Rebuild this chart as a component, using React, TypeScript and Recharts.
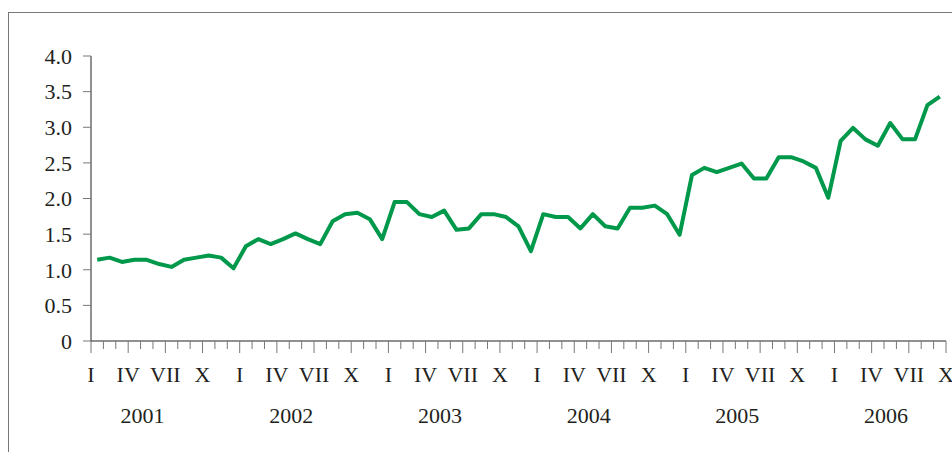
import React from 'react';
import { LineChart, Line, XAxis, YAxis } from 'recharts';

// monthly values, Jan..Dec for each year (2006 ends in September)
const y2001 = [1.14, 1.17, 1.11, 1.14, 1.14, 1.08, 1.04, 1.14, 1.17, 1.2, 1.17, 1.02];
const y2002 = [1.33, 1.43, 1.36, 1.43, 1.51, 1.43, 1.36, 1.68, 1.78, 1.8, 1.71, 1.43];
const y2003 = [1.95, 1.95, 1.78, 1.74, 1.83, 1.56, 1.58, 1.78, 1.78, 1.74, 1.61, 1.26];
const y2004 = [1.78, 1.74, 1.74, 1.58, 1.78, 1.61, 1.58, 1.87, 1.87, 1.9, 1.78, 1.49];
const y2005 = [2.33, 2.43, 2.37, 2.43, 2.49, 2.28, 2.28, 2.58, 2.58, 2.52, 2.43, 2.01];
const y2006 = [2.81, 2.99, 2.83, 2.74, 3.06, 2.83, 2.83, 3.31, 3.43];

const years = ['2001', '2002', '2003', '2004', '2005', '2006'];
const quarterLabels: { [m: number]: string } = { 0: 'I', 3: 'IV', 6: 'VII', 9: 'X' };
const yTicks = [0, 0.5, 1, 1.5, 2, 2.5, 3, 3.5, 4];

const values = [...y2001, ...y2002, ...y2003, ...y2004, ...y2005, ...y2006];
const data = values.map((v, i) => ({ x: i + 0.5, v }));
const monthTicks = Array.from({ length: values.length + 1 }, (_, i) => i);

const FONT = "'Liberation Serif', 'Times New Roman', serif";
const TEXT = '#231f20';

const MonthTick = (props: any) => {
  const { x, y, payload } = props;
  const idx = payload.value as number;
  const m = idx % 12;
  const label = quarterLabels[m];
  const yearIdx = Math.floor(idx / 12);
  return (
    <g>
      <line x1={x} x2={x} y1={y} y2={y + (label ? 12 : 8)} stroke="#777" strokeWidth={1} />
      {label && (
        <text x={x} y={y + 41} textAnchor="middle" fill={TEXT} fontSize={22} fontFamily={FONT}>
          {label}
        </text>
      )}
      {m === 4 && years[yearIdx] && (
        <text x={x + 2} y={y + 82} textAnchor="middle" fill={TEXT} fontSize={22} fontFamily={FONT}>
          {years[yearIdx]}
        </text>
      )}
    </g>
  );
};

export default function App() {
  return (
    <div style={{ position: 'absolute', left: 0, top: 0, width: 952, height: 452, overflow: 'hidden', background: '#fff' }}>
      <div
        style={{
          position: 'absolute',
          left: 8,
          top: 12,
          width: 1000,
          height: 500,
          borderTop: '1px solid #777',
          borderLeft: '1px solid #777',
        }}
      />
      <div style={{ position: 'absolute', left: 0, top: 0 }}>
        <LineChart width={952} height={452} data={data} margin={{ top: 56, right: 6, bottom: 0, left: 0 }}>
          <XAxis
            type="number"
            dataKey="x"
            domain={[0, values.length]}
            ticks={monthTicks}
            interval={0}
            tickSize={0}
            tickMargin={0}
            tickLine={false}
            axisLine={{ stroke: '#222' }}
            tick={<MonthTick />}
            height={111}
          />
          <YAxis
            type="number"
            domain={[0, 4]}
            ticks={yTicks}
            interval={0}
            width={91}
            tickSize={8}
            tickMargin={11}
            axisLine={{ stroke: '#222' }}
            tickLine={{ stroke: '#777' }}
            tick={{ fill: TEXT, fontSize: 22, fontFamily: FONT }}
            tickFormatter={(v: number) => (v === 0 ? '0' : v.toFixed(1))}
          />
          <Line
            type="linear"
            dataKey="v"
            stroke="#00984a"
            strokeWidth={4}
            dot={false}
            isAnimationActive={false}
            strokeLinejoin="round"
          />
        </LineChart>
      </div>
    </div>
  );
}
